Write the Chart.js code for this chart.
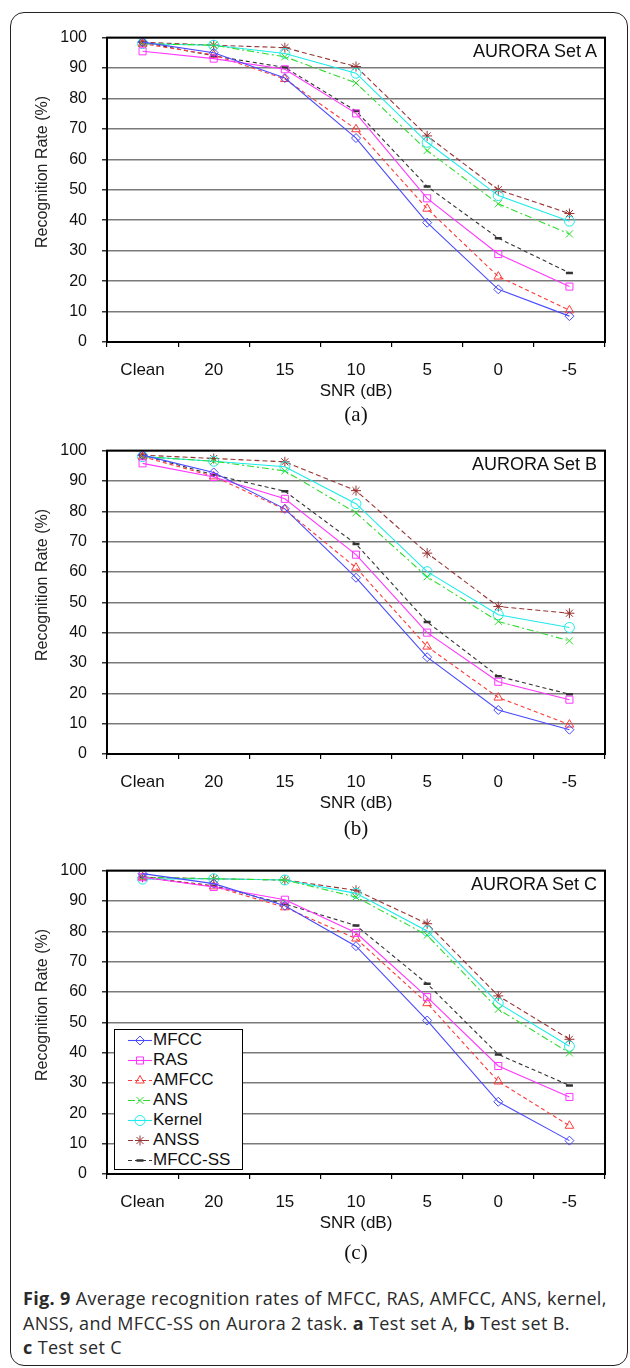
<!DOCTYPE html>
<html><head><meta charset="utf-8">
<script src="https://cdn.jsdelivr.net/npm/chart.js"></script>
<style>
html,body{margin:0;padding:0;background:#fff;width:630px;height:1368px;overflow:hidden;}
body{position:relative;font-family:"Liberation Sans",Arial,sans-serif;color:#111;}
canvas.ch{position:absolute;left:0;}
.frame{position:absolute;left:10px;top:12px;width:618px;height:1354px;border:1.5px solid #222;border-radius:14px;box-sizing:border-box;}
.ytitle{position:absolute;width:240px;height:20px;line-height:20px;text-align:center;font-size:16px;transform:rotate(-90deg);color:#222;}
.settitle{position:absolute;right:33px;height:20px;line-height:20px;font-size:18px;color:#111;white-space:nowrap;}
.plabel{position:absolute;left:256px;width:200px;text-align:center;height:24px;line-height:24px;font-family:"Liberation Serif","Times New Roman",serif;font-size:21px;color:#111;}
.legend{position:absolute;left:114px;top:1029px;width:129px;height:141px;border:1px solid #000;background:#fff;box-sizing:border-box;}
.lrow{position:absolute;left:0;height:20px;width:127px;}
.lrow canvas{position:absolute;left:13px;top:0;}
.lrow span{position:absolute;left:38px;top:0;line-height:20px;font-size:17px;white-space:nowrap;color:#111;}
.caption{position:absolute;left:23px;top:1286px;width:605px;font-family:"Open Sans","Noto Sans",sans-serif;font-size:18px;letter-spacing:0.35px;line-height:24.5px;color:#2a2a2a;white-space:nowrap;}
</style>
</head>
<body>
<div class="frame"></div>
<canvas id="cA" class="ch" width="630" height="400" style="top:13px"></canvas>
<canvas id="cB" class="ch" width="630" height="400" style="top:426px"></canvas>
<canvas id="cC" class="ch" width="630" height="400" style="top:846px"></canvas>

<div class="ytitle" style="left:-78px;top:162px">Recognition Rate (%)</div>
<div class="ytitle" style="left:-78px;top:575px">Recognition Rate (%)</div>
<div class="ytitle" style="left:-78px;top:995px">Recognition Rate (%)</div>

<div class="settitle" style="top:41px">AURORA Set A</div>
<div class="settitle" style="top:454px">AURORA Set B</div>
<div class="settitle" style="top:874px">AURORA Set C</div>

<div class="plabel" style="top:402px">(a)</div>
<div class="plabel" style="top:816px">(b)</div>
<div class="plabel" style="top:1240px">(c)</div>

<div class="legend" id="legend"></div>

<div class="caption">
<div><b>Fig. 9</b> Average recognition rates of MFCC, RAS, AMFCC, ANS, kernel,</div>
<div>ANSS, and MFCC-SS on Aurora 2 task. <b>a</b> Test set A, <b>b</b> Test set B.</div>
<div><b>c</b> Test set C</div>
</div>

<script>
const categories = ['Clean', '20', '15', '10', '5', '0', '-5'];
const seriesNames = ['MFCC', 'RAS', 'AMFCC', 'ANS', 'Kernel', 'ANSS', 'MFCC-SS'];

// Set A
const mfccA   = [98.5, 95.0, 86.7, 67.0, 39.2, 17.3, 8.5];
const rasA    = [95.5, 93.1, 89.6, 75.1, 47.2, 28.9, 18.2];
const amfccA  = [98.0, 94.3, 86.4, 69.9, 43.8, 21.5, 10.4];
const ansA    = [98.0, 97.5, 93.7, 85.1, 62.9, 45.4, 35.5];
const kernelA = [98.0, 97.5, 94.8, 88.3, 65.6, 48.1, 39.7];
const anssA   = [98.5, 97.5, 96.7, 90.5, 67.7, 50.0, 42.2];
const mfccssA = [98.5, 94.0, 90.2, 75.9, 51.1, 34.1, 22.7];

// Set B
const mfccB   = [98.5, 92.8, 80.8, 58.1, 31.9, 14.5, 8.0];
const rasB    = [95.8, 91.3, 84.1, 65.7, 40.0, 23.8, 17.9];
const amfccB  = [98.0, 91.5, 80.6, 61.4, 35.4, 18.6, 9.7];
const ansB    = [98.0, 96.5, 93.3, 79.5, 58.4, 43.7, 37.3];
const kernelB = [98.0, 96.5, 94.7, 82.5, 60.1, 45.9, 41.7];
const anssB   = [98.5, 97.4, 96.3, 86.8, 66.2, 48.6, 46.4];
const mfccssB = [98.5, 92.0, 86.6, 69.2, 43.5, 25.6, 19.7];

// Set C
const mfccC   = [99.0, 95.7, 88.4, 75.1, 50.6, 23.8, 11.0];
const rasC    = [97.8, 94.6, 90.4, 79.5, 58.3, 35.6, 25.4];
const amfccC  = [97.8, 94.8, 87.9, 77.6, 56.3, 30.5, 15.9];
const ansC    = [97.8, 97.3, 96.9, 91.3, 78.7, 54.3, 39.9];
const kernelC = [97.2, 97.3, 96.9, 92.5, 80.1, 56.3, 42.1];
const anssC   = [97.8, 97.3, 96.9, 93.5, 82.5, 58.7, 44.4];
const mfccssC = [97.8, 95.0, 89.0, 81.9, 62.7, 39.4, 29.2];

const yMin = 0, yMax = 100, yStep = 10;

const styles = [
  {color:'#4a4aff', dash:[], point:'rectRot', r:4.5, bw:1},
  {color:'#ff36ff', dash:[], point:'rect', r:5, bw:1},
  {color:'#ff3a3a', dash:[4,3], point:'triangle', r:5, bw:1},
  {color:'#2edc2e', dash:[7,3,2,3], point:'crossRot', r:5, bw:1},
  {color:'#1eeaea', dash:[], point:'circle', r:5, bw:1},
  {color:'#983232', dash:[5,3], point:'star', r:5, bw:1},
  {color:'#333333', dash:[4,3], point:'line', r:3.5, bw:2.5}
];

const FONT = '"Liberation Sans", Arial, sans-serif';

const framePlugin = {
  id: 'frame',
  afterDatasetsDraw(chart) {
    const a = chart.chartArea, ctx = chart.ctx;
    ctx.save();
    ctx.strokeStyle = '#000';
    ctx.lineWidth = 2;
    ctx.strokeRect(a.left, a.top, a.right - a.left, a.bottom - a.top);
    ctx.restore();
  }
};

function makeChart(id, sets, plotH) {
  return new Chart(document.getElementById(id), {
    type: 'line',
    data: {
      labels: categories,
      datasets: sets.map((d, i) => ({
        label: seriesNames[i],
        data: d,
        borderColor: styles[i].color,
        backgroundColor: 'rgba(0,0,0,0)',
        borderWidth: 1.1,
        borderDash: styles[i].dash,
        pointStyle: styles[i].point,
        pointRadius: styles[i].r,
        pointBorderColor: styles[i].color,
        pointBackgroundColor: 'rgba(0,0,0,0)',
        pointBorderWidth: styles[i].bw,
        tension: 0,
        fill: false
      }))
    },
    options: {
      responsive: false,
      animation: false,
      devicePixelRatio: 1,
      layout: {padding: {top: 20, left: 0, right: 25, bottom: 400 - 20 - plotH - 60}},
      plugins: {legend: {display: false}, tooltip: {enabled: false}, title: {display: false}},
      scales: {
        x: {
          offset: true,
          grid: {offset: true, drawOnChartArea: false, tickLength: 5, color: '#000', lineWidth: 1.2},
          border: {display: false},
          ticks: {color: '#111', font: {family: FONT, size: 17}, padding: 13, maxRotation: 0, autoSkip: false},
          title: {display: true, text: 'SNR (dB)', color: '#111', font: {family: FONT, size: 17}, padding: 0},
          afterFit(s) { s.height = 60; }
        },
        y: {
          min: yMin, max: yMax,
          ticks: {stepSize: yStep, color: '#111', font: {family: FONT, size: 16}, padding: 15},
          grid: {color: '#7a7a7a', lineWidth: 1.5, tickLength: 5, tickColor: '#333'},
          border: {display: false},
          afterFit(s) { s.width = 107; }
        }
      }
    },
    plugins: [framePlugin]
  });
}

makeChart('cA', [mfccA, rasA, amfccA, ansA, kernelA, anssA, mfccssA], 309);
makeChart('cB', [mfccB, rasB, amfccB, ansB, kernelB, anssB, mfccssB], 308);
makeChart('cC', [mfccC, rasC, amfccC, ansC, kernelC, anssC, mfccssC], 308);

// HTML legend for panel C
const leg = document.getElementById('legend');
seriesNames.forEach((name, i) => {
  const row = document.createElement('div');
  row.className = 'lrow';
  row.style.top = (i * 20) + 'px';
  const c = document.createElement('canvas');
  c.width = 24; c.height = 20;
  const ctx = c.getContext('2d');
  const st = styles[i];
  ctx.strokeStyle = st.color;
  ctx.lineWidth = 1.1;
  ctx.setLineDash(st.dash);
  ctx.beginPath(); ctx.moveTo(0, 10.5); ctx.lineTo(24, 10.5); ctx.stroke();
  ctx.setLineDash([]);
  ctx.lineWidth = st.bw;
  ctx.fillStyle = 'rgba(0,0,0,0)';
  if (Chart.helpers && Chart.helpers.drawPoint) {
    Chart.helpers.drawPoint(ctx, {pointStyle: st.point, radius: st.r, rotation: 0, borderWidth: st.bw}, 12, 10.5);
  }
  const s = document.createElement('span');
  s.textContent = name;
  row.appendChild(c);
  row.appendChild(s);
  leg.appendChild(row);
});
</script>
</body></html>
